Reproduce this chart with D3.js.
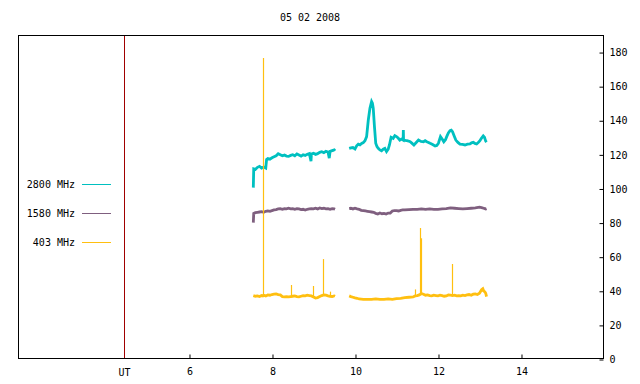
<!DOCTYPE html>
<html>
<head>
<meta charset="utf-8">
<script src="https://cdn.jsdelivr.net/npm/d3@7"></script>
<style>
  body { margin: 0; background: #fff; }
  svg { display: block; }
  text { font-family: "DejaVu Sans Mono", "Liberation Mono", monospace; font-size: 10px; fill: #000; }
</style>
</head>
<body>
<script>
// ---- data (hours UT, flux units) ----
var title = '05 02 2008';
var utHour = 4.43;
var xTicks = [6, 8, 10, 12, 14];
var yTicks = [0, 20, 40, 60, 80, 100, 120, 140, 160, 180];
var seriesNames = ['2800 MHz', '1580 MHz', '403 MHz'];
var seriesColors = ['#00c0c0', '#7f5f7f', '#ffbf10'];

// null marks the data gap
var hours2800 = [7.55,7.56,7.60,7.65,7.70,7.75,7.80,7.85,7.87,7.90,7.95,8.00,8.05,8.10,8.15,8.20,8.25,8.30,8.35,8.40,8.45,8.50,8.55,8.60,8.65,8.70,8.75,8.80,8.85,8.90,8.94,8.95,9.00,9.05,9.10,9.15,9.20,9.25,9.30,9.35,9.38,9.40,9.45,9.50,9.52,
  null,
  9.86,9.90,9.95,10.00,10.04,10.08,10.12,10.16,10.20,10.24,10.28,10.32,10.36,10.40,10.42,10.44,10.47,10.50,10.53,10.56,10.60,10.64,10.68,10.72,10.76,10.80,10.83,10.87,10.92,10.96,11.00,11.04,11.08,11.12,11.16,11.165,11.17,11.21,11.25,11.29,11.33,11.37,11.42,11.47,11.53,11.59,11.65,11.69,11.73,11.77,11.81,11.87,11.93,11.97,12.01,12.06,12.10,12.14,12.18,12.21,12.25,12.29,12.32,12.35,12.39,12.43,12.48,12.53,12.59,12.65,12.71,12.77,12.81,12.85,12.89,12.93,12.97,13.01,13.05,13.09,13.12,13.15,13.17];
var flux2800 = [100.5,111.5,111.2,112.4,113.0,112.0,112.6,112.0,117.0,117.6,117.2,118.0,118.6,119.2,120.4,119.8,119.2,119.6,119.0,118.8,119.4,119.8,119.2,120.2,119.6,119.0,119.8,119.4,120.0,120.4,116.0,120.2,120.6,120.0,120.4,121.2,121.6,121.0,121.8,121.4,117.8,121.8,122.2,122.6,122.0,
  null,
  123.5,123.8,124.0,123.2,125.0,126.0,125.6,126.4,126.9,128.0,130.4,140.0,147.0,151.0,150.0,147.0,136.0,126.5,124.5,123.5,122.6,122.1,123.0,123.5,121.6,123.0,125.5,130.0,129.4,131.0,130.4,129.6,128.4,129.0,128.4,134.3,128.6,128.2,128.0,127.8,127.4,126.6,125.5,126.8,128.4,127.6,127.4,128.0,127.4,127.0,126.5,125.8,124.9,125.2,126.5,130.4,129.0,127.4,128.6,130.4,132.6,133.9,134.2,133.3,130.8,128.4,127.0,126.0,125.8,125.5,126.0,126.1,126.8,127.1,126.4,126.1,127.0,128.0,129.6,130.8,130.0,127.8,127.2];

var hours1580 = [7.55,7.56,7.60,7.65,7.70,7.75,7.80,7.85,7.90,7.95,8.00,8.05,8.10,8.15,8.20,8.25,8.30,8.35,8.40,8.45,8.50,8.55,8.60,8.65,8.70,8.75,8.80,8.85,8.90,8.95,9.00,9.05,9.10,9.15,9.20,9.25,9.30,9.35,9.40,9.45,9.50,9.52,
  null,
  9.86,9.90,9.95,10.00,10.05,10.10,10.15,10.20,10.25,10.30,10.35,10.40,10.45,10.50,10.55,10.60,10.65,10.70,10.75,10.80,10.85,10.90,10.95,11.00,11.05,11.10,11.15,11.20,11.30,11.40,11.50,11.60,11.70,11.80,11.90,12.00,12.10,12.20,12.30,12.40,12.50,12.60,12.70,12.80,12.90,13.00,13.05,13.10,13.15,13.17];
var flux1580 = [80.0,85.4,85.8,86.0,86.2,86.4,86.0,86.6,86.8,86.6,87.0,87.4,87.6,88.0,88.2,87.8,88.2,88.0,88.4,88.0,88.2,87.8,88.2,88.0,87.6,87.8,87.4,87.8,88.0,88.2,88.0,88.4,88.0,88.6,88.2,88.4,88.0,88.2,87.8,88.2,88.0,87.8,
  null,
  88.2,88.4,88.0,88.4,88.0,87.8,87.2,87.0,86.8,86.6,86.4,86.2,86.0,85.4,85.0,85.6,85.2,85.4,85.0,85.6,85.6,86.8,87.0,87.0,86.8,87.2,87.4,87.4,87.6,87.8,87.8,88.0,87.8,88.0,87.8,87.8,88.0,88.2,88.6,88.4,88.2,88.0,88.2,88.4,88.6,89.0,88.8,88.4,88.0,88.2];

var hours403 = [7.55,7.60,7.65,7.70,7.75,7.78,7.80,7.85,7.90,7.95,8.00,8.05,8.10,8.15,8.20,8.25,8.30,8.35,8.40,8.45,8.50,8.55,8.60,8.65,8.70,8.75,8.80,8.85,8.90,8.95,9.00,9.05,9.10,9.15,9.20,9.25,9.30,9.35,9.40,9.45,9.50,9.52,
  null,
  9.86,9.90,9.95,10.00,10.05,10.10,10.20,10.30,10.40,10.50,10.60,10.70,10.80,10.90,11.00,11.10,11.20,11.30,11.40,11.45,11.50,11.55,11.60,11.65,11.70,11.75,11.80,11.85,11.90,11.95,12.00,12.05,12.10,12.15,12.20,12.25,12.30,12.35,12.40,12.45,12.50,12.55,12.60,12.65,12.70,12.75,12.80,12.85,12.90,12.95,13.00,13.05,13.08,13.10,13.13,13.15,13.17];
var flux403 = [37.2,36.8,37.0,36.6,37.2,37.0,37.4,37.0,37.6,37.4,37.8,38.0,38.2,37.8,37.6,36.6,36.4,36.6,36.4,36.6,36.8,37.0,36.6,36.4,36.8,37.2,37.0,37.4,37.2,37.0,36.4,35.8,36.0,36.6,37.2,37.6,37.4,37.0,36.8,36.6,37.0,36.8,
  null,
  37.0,36.6,36.2,35.8,35.6,35.2,35.0,35.0,35.0,35.2,35.0,35.0,35.2,35.0,35.4,35.6,36.0,36.2,36.4,37.0,37.2,37.6,38.4,38.0,37.4,37.6,37.2,37.0,37.4,37.2,37.0,37.4,37.2,36.8,37.0,37.6,37.4,37.2,37.4,37.0,37.2,37.0,37.4,37.2,37.6,37.8,37.4,38.0,38.2,37.8,38.6,40.6,41.2,40.0,39.4,38.6,36.6];

// short bursts at 403 MHz
var spikeHours403 = [7.78, 8.46, 8.99, 9.24, 9.40, 11.44, 11.57, 11.59, 12.34];
var spikePeaks403 = [176.5, 43.4, 42.8, 58.6, 39.5, 40.8, 76.8, 70.8, 55.7];

// ---- chart ----
var W = 640, H = 384;
var x = d3.scaleLinear().domain([1.88, 16.0]).range([18, 604]);
var y = d3.scaleLinear().domain([0, 190]).range([359, 35]);

var svg = d3.select('body').append('svg').attr('width', W).attr('height', H);

svg.append('text').attr('x', 310).attr('y', 21).attr('text-anchor', 'middle').text(title);

// data lines
var makeRows = function(hrs, vals) {
    return hrs.map(function(h, i) { return {h: h, v: vals[i]}; });
};
var line = d3.line()
    .defined(function(d) { return d.h !== null && d.v !== null; })
    .x(function(d) { return x(d.h); })
    .y(function(d) { return y(d.v); });

var seriesRows = [makeRows(hours2800, flux2800), makeRows(hours1580, flux1580), makeRows(hours403, flux403)];

svg.selectAll('.series')
    .data(seriesRows)
    .enter().append('path')
    .attr('class', 'series')
    .attr('fill', 'none')
    .attr('stroke', function(d, i) { return seriesColors[i]; })
    .attr('stroke-width', 2.8)
    .attr('stroke-linejoin', 'miter')
    .attr('d', line);

// 403 bursts rise from the nearby baseline
var rows403 = seriesRows[2].filter(function(d) { return d.h !== null; });
var base403 = function(h) {
    var i = d3.bisector(function(d) { return d.h; }).left(rows403, h);
    return rows403[Math.min(i, rows403.length - 1)].v;
};
svg.selectAll('.spike')
    .data(spikeHours403)
    .enter().append('line')
    .attr('class', 'spike')
    .attr('x1', function(d) { return Math.round(x(d)) + 0.5; })
    .attr('x2', function(d) { return Math.round(x(d)) + 0.5; })
    .attr('y1', function(d) { return y(base403(d)); })
    .attr('y2', function(d, i) { return y(spikePeaks403[i]); })
    .attr('stroke', seriesColors[2])
    .attr('stroke-width', 1.2);

// UT marker
var ux = Math.round(x(utHour)) + 0.5;
svg.append('line')
    .attr('x1', ux).attr('x2', ux)
    .attr('y1', y(190)).attr('y2', y(0))
    .attr('stroke', '#a00000').attr('stroke-width', 1);
svg.append('text').attr('x', ux).attr('y', 376).attr('text-anchor', 'middle').text('UT');

// frame
svg.append('rect')
    .attr('x', 18.5).attr('y', 35.5)
    .attr('width', 585).attr('height', 323)
    .attr('fill', 'none').attr('stroke', '#000').attr('stroke-width', 1);

// right axis, ticks pointing in
var yAxis = d3.axisRight(y).tickValues(yTicks).tickSize(-4).tickPadding(5);
var gy = svg.append('g').attr('transform', 'translate(603.5,0.5)').call(yAxis);
gy.select('.domain').remove();
gy.selectAll('text').style('font-family', '"DejaVu Sans Mono", monospace').style('font-size', '10px').attr('x', 6);

// bottom axis, ticks pointing up
var xAxis = d3.axisBottom(x).tickValues(xTicks).tickSize(-4).tickPadding(9);
var gx = svg.append('g').attr('transform', 'translate(0.5,358.5)').call(xAxis);
gx.select('.domain').remove();
gx.selectAll('text').style('font-family', '"DejaVu Sans Mono", monospace').style('font-size', '10px');

// legend
var legend = svg.selectAll('.legend')
    .data(seriesNames)
    .enter().append('g')
    .attr('class', 'legend')
    .attr('transform', function(d, i) { return 'translate(0,' + (184.5 + i * 29) + ')'; });
legend.append('text')
    .attr('x', 75).attr('y', 0).attr('dy', '0.35em')
    .attr('text-anchor', 'end')
    .text(function(d) { return d; });
legend.append('line')
    .attr('x1', 82).attr('x2', 111)
    .attr('stroke', function(d, i) { return seriesColors[i]; })
    .attr('stroke-width', 1);
</script>
</body>
</html>
